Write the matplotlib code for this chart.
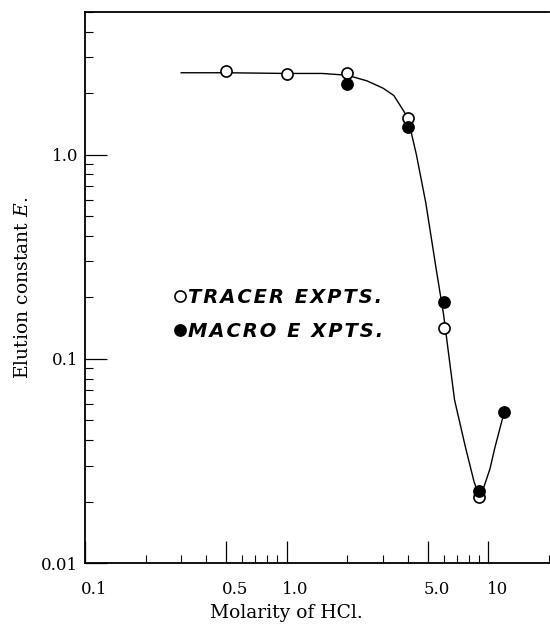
import matplotlib
matplotlib.use("Agg")
import matplotlib.pyplot as plt
from matplotlib.ticker import LogLocator, FixedLocator, FixedFormatter, NullFormatter
import matplotlib.transforms as mtransforms

# Data
tracer_x = [0.5, 1.0, 2.0, 4.0, 6.0, 9.0]
tracer_y = [2.58, 2.49, 2.5, 1.52, 0.141, 0.021]
macro_x = [2.0, 4.0, 6.0, 9.0, 12.0]
macro_y = [2.22, 1.36, 0.19, 0.0225, 0.055]
curve_x = [0.3, 0.5, 1.0, 1.5, 2.0, 2.5, 3.0, 3.4, 3.8, 4.0, 4.4, 4.9, 5.5,
           6.0, 6.8, 7.7, 8.5, 8.9, 9.5, 10.2, 10.8, 11.7, 12.1]
curve_y = [2.52, 2.52, 2.5, 2.5, 2.45, 2.3, 2.12, 1.95, 1.64, 1.5, 1.0, 0.58,
           0.28, 0.165, 0.063, 0.037, 0.025, 0.022, 0.0235, 0.029, 0.037, 0.05, 0.055]
xtick_vals = [0.1, 0.5, 1.0, 5.0, 10]
xtick_labels = ["0.1", "0.5", "1.0", "5.0", "10"]
ytick_vals = [0.01, 0.1, 1.0]
ytick_labels = ["0.01", "0.1", "1.0"]
legend_labels = ["TRACER EXPTS.", "MACRO E XPTS."]

plt.rcParams["font.family"] = ["DejaVu Serif"]
plt.rcParams["mathtext.fontset"] = "dejavuserif"

def spaced(s):
    return "\u200a".join(s)

fig = plt.figure(figsize=(5.5, 6.25), dpi=100)
ax = fig.add_axes([85 / 550, 1 - 563 / 625, 464 / 550, (563 - 12) / 625])

ax.plot(curve_x, curve_y, color="black", lw=1.0, zorder=2)
ax.plot(tracer_x, tracer_y, "o", ms=8, mfc="white", mec="black", mew=1.2,
        ls="none", zorder=3, label=spaced(legend_labels[0]))
ax.plot(macro_x, macro_y, "o", ms=8, mfc="black", mec="black", mew=1.2,
        ls="none", zorder=4, label=spaced(legend_labels[1]))

ax.set_xscale("log")
ax.set_yscale("log")
ax.set_xlim(0.1, 20)
ax.set_ylim(0.01, 5)

ax.xaxis.set_major_locator(FixedLocator(xtick_vals))
ax.xaxis.set_major_formatter(FixedFormatter(xtick_labels))
ax.xaxis.set_minor_locator(LogLocator(base=10, subs=range(2, 10), numticks=20))
ax.xaxis.set_minor_formatter(NullFormatter())
ax.yaxis.set_major_locator(FixedLocator(ytick_vals))
ax.yaxis.set_major_formatter(FixedFormatter(ytick_labels))
ax.yaxis.set_minor_locator(LogLocator(base=10, subs=range(2, 10), numticks=20))
ax.yaxis.set_minor_formatter(NullFormatter())

ax.tick_params(which="major", direction="in", length=16, width=0.9,
               labelsize=12, top=False, right=False)
ax.tick_params(which="minor", direction="in", length=6, width=0.8,
               top=False, right=False)
ax.tick_params(axis="x", which="major", pad=13)
ax.tick_params(axis="y", which="major", pad=5)

offset = mtransforms.ScaledTranslation(9 / 100, 0, fig.dpi_scale_trans)
for lab in ax.get_xticklabels():
    lab.set_transform(lab.get_transform() + offset)

for s in ["left", "bottom", "top"]:
    ax.spines[s].set_linewidth(1.3)
ax.spines["right"].set_visible(False)

ax.set_xlabel("Molarity of HCl.", fontsize=13.5)
ax.xaxis.set_label_coords((286 - 85) / 464, (563 - 604) / 551)
ax.set_ylabel("Elution constant $E$.", fontsize=13.5)
ax.yaxis.set_label_coords((14 - 85) / 464, 0.5)
ax.yaxis.label.set_va("top")

leg = ax.legend(loc="center left", bbox_to_anchor=((174 - 85) / 464, (563 - 314.5) / 551),
                frameon=False, handlelength=0.6, handletextpad=0.1,
                labelspacing=0.75, borderpad=0, borderaxespad=0,
                prop={"family": "DejaVu Sans", "weight": "bold",
                      "style": "italic", "size": 14})

fig.savefig("out.png", dpi=100)
